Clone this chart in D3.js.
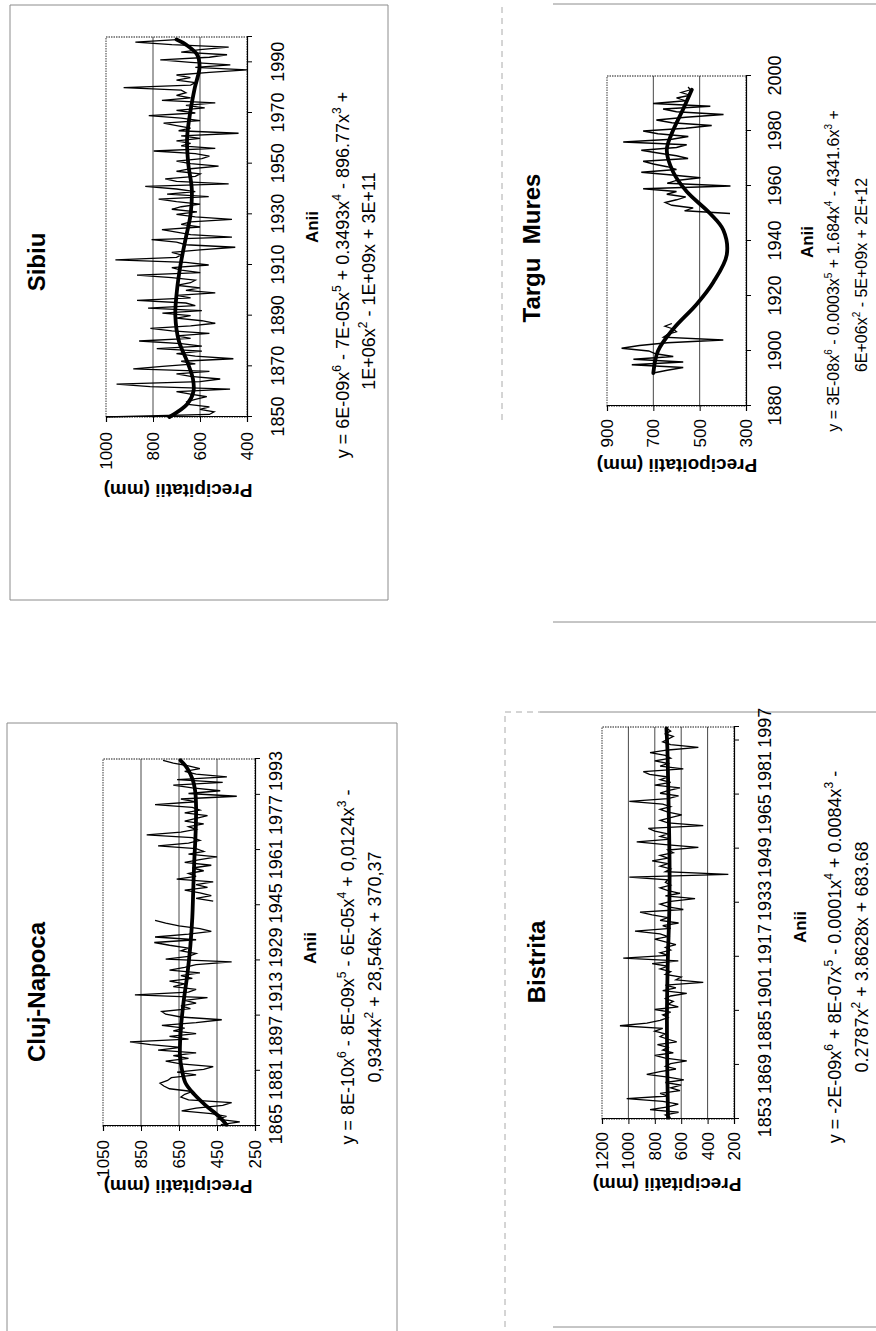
<!DOCTYPE html>
<html>
<head>
<meta charset="utf-8">
<script src="https://cdn.jsdelivr.net/npm/d3@7"></script>
<style>
  body { margin: 0; background: #fff; }
  svg { display: block; }
  text { font-family: "Liberation Sans", Arial, sans-serif; fill: #000; white-space: pre; }
</style>
</head>
<body>
<script>
// ---- data (annual precipitation, mm) ----
var clujStart = 1865;
var clujValues = [
  430, 330, 450, 400, 480, 636, 560, 420, 373, 600,
  640, 620, 580, 700, 730, 750, 710, 690, 560, 660,
  520, 470, 640, 720, 600, 680, 560, 760, 640, 800,
  908, 600, 700, 560, 680, 620, 740, 560, 425, 640,
  720, 741, 590, 640, 560, 620, 500, 882, 600, 560,
  680, 620, 700, 580, 640, 540, 700, 620, 560, 373,
  720, 600, 560, 640, 600, 700, 780, 560, 776, 600,
  480, 540, 650, 720, 776, null, null, null, null, null,
  null, 470, 560, 480, 540, 620, 500, 560, 470, 662,
  560, 600, 520, 580, 480, 620, 540, 450, 600, 520,
  560, 760, 600, 540, 580, 820, 640, 560, 600, 520,
  620, 560, 500, 620, 540, 580, 776, 560, 640, 346,
  600, 433, 580, 680, 420, 660, 398, 560, 620, 540,
  600, 680, 734
];
var clujTrendYears = [1865, 1868, 1872, 1876, 1880, 1885, 1890, 1900, 1910, 1920, 1930, 1940, 1950, 1960, 1970, 1980, 1986, 1990, 1994, 1997];
var clujTrendValues = [400, 440, 510, 570, 615, 635, 645, 640, 625, 605, 590, 580, 575, 570, 563, 560, 565, 578, 605, 642];
var clujValueTicks = [250, 450, 650, 850, 1050];
var clujYearLabels = [1865, 1881, 1897, 1913, 1929, 1945, 1961, 1977, 1993];
var clujYearTicks = [1884.5, 1904.5, 1924.5, 1944.5, 1964.5, 1984.5];

var sibiuStart = 1850;
var sibiuValues = [
  1000, 560, 540, 600, 560, 650, 657, 620, 571, 640,
  700, 472, 812, 955, 600, 514, 640, 700, 560, 884,
  760, 620, 680, 458, 620, 700, 592, 784, 592, 680,
  859, 640, 700, 560, 720, 811, 640, 535, 592, 700,
  640, 760, 592, 821, 620, 660, 868, 640, 700, 535,
  660, 600, 700, 640, 620, 720, 868, 599, 680, 720,
  563, 660, 960, 700, 680, 720, 600, 450, 660, 700,
  806, 464, 640, 700, 762, 600, 680, 640, 464, 620,
  700, 613, 720, 680, 600, 700, 776, 563, 740, 620,
  700, 833, 478, 700, 748, 620, 599, 700, 640, 521,
  640, 700, 592, 560, 620, 797, 535, 680, 640, 700,
  600, 680, 436, 691, 640, 700, 755, 600, 680, 818,
  620, 700, 580, 660, 535, 762, 640, 700, 660, 680,
  925, 640, 620, 700, 641, 700, 560, 400, 620, 471,
  640, 769, 560, 485, 680, 600, 478, 720, 875, 698
];
var sibiuTrendYears = [1850, 1855, 1860, 1865, 1872, 1880, 1890, 1900, 1910, 1920, 1930, 1940, 1950, 1960, 1970, 1980, 1988, 1993, 1997, 1999];
var sibiuTrendValues = [730, 655, 628, 630, 655, 690, 705, 698, 683, 662, 640, 635, 650, 655, 642, 622, 602, 612, 660, 700];
var sibiuValueTicks = [400, 600, 800, 1000];
var sibiuYearLabels = [1850, 1870, 1890, 1910, 1930, 1950, 1970, 1990];
var sibiuYearTicks = [1850, 1870, 1890, 1910, 1930, 1950, 1970, 1990, 2000];

var bistritaStart = 1853;
var bistritaValues = [
  680, 720, 620, 836, 700, 622, 740, 1013, 700, 760,
  609, 680, 600, 720, 580, 700, 861, 760, 640, 720,
  680, 558, 720, 800, 660, 740, 700, 780, 634, 700,
  760, 720, 800, 740, 1064, 860, 760, 700, 740, 680,
  800, 622, 700, 660, 720, 680, 558, 740, 640, 720,
  433, 640, 600, 720, 680, 760, 700, 820, 622, 1039,
  700, 760, 680, 720, 640, 720, 800, 700, 760, 950,
  680, 740, 620, 760, 700, 820, 912, 584, 700, 760,
  680, 495, 720, 609, 700, 760, 680, 720, 700, 993,
  243, 720, 680, 760, 700, 820, 700, 760, 660, 700,
  470, 720, 937, 680, 760, 700, 800, 849, 433, 700,
  760, 680, 596, 700, 760, 680, 740, 993, 700, 620,
  760, 700, 609, 800, 680, 760, 700, 840, 887, 584,
  760, 700, 800, 680, 720, 836, 700, 470, 680, 740,
  700, 660, 720, 680, 710
];
var bistritaTrendYears = [1853, 1870, 1890, 1910, 1930, 1945, 1960, 1975, 1990, 1997];
var bistritaTrendValues = [700, 705, 708, 702, 690, 688, 692, 698, 705, 712];
var bistritaValueTicks = [200, 400, 600, 800, 1000, 1200];
var bistritaYearLabels = [1853, 1869, 1885, 1901, 1917, 1933, 1949, 1965, 1981, 1997];
var bistritaYearTicks = [1872.5, 1892.5, 1912.5, 1932.5, 1952.5, 1972.5, 1992.5];

var targuStart = 1892;
var targuValues = [
  700, 640, 571, 793, 571, 786, 614, 690, 720, 837,
  760, 640, 398, 657, 640, 600, 614, 650, 620,
  null, null, null, null, null, null, null, null, null, null,
  null, null, null, null, null, null, null, null, null, null,
  null, null, null, null, null, null, null, null, null, null,
  null, null, null, null, null, null, null, null, null,
  369, 565, 528, 620, 649, 600, 560, 642, 600, 744,
  367, 640, 600, 497, 620, 752, 600, 640, 700, 744,
  550, 600, 680, 752, 600, 556, 830, 620, 549, 680,
  744, 560, 448, 620, 687, 560, 397, 600, 658, 454,
  701, 560, 600, 540, 580, 540, 550
];
var targuTrendYears = [1892, 1900, 1908, 1917, 1925, 1935, 1944, 1950, 1958, 1965, 1973, 1979, 1988, 1995];
var targuTrendValues = [700, 680, 614, 513, 441, 383, 398, 455, 556, 614, 642, 621, 571, 534];
var targuValueTicks = [300, 500, 700, 900];
var targuYearLabels = [1880, 1900, 1920, 1940, 1960, 1980, 2000];

// ---- page layout: the page is drawn upright in a 1331 x 876 frame, then turned 90deg ----
var pageW = 1331;

var panels = [
  {
    title: "Cluj-Napoca", titleX: 339, titleY: 45, titleSize: 24,
    frame: [[-2, 7, 608, 7], [608, 7, 608, 397], [-2, 397, 608, 397]],
    box: {x0: 205, x1: 572, y0: 103, y1: 255},
    xDomain: [1864.5, 1997.5], yDomain: [250, 1050],
    start: clujStart, values: clujValues, trendYears: clujTrendYears, trendValues: clujTrendValues,
    valueTicks: clujValueTicks, yearLabels: clujYearLabels, yearTicks: clujYearTicks,
    valuePad: 9, yearPad: 14,
    yLabel: "Precipitatii (mm)", yLabelX: 151, yLabelY: 178,
    aniiX: 383, aniiY: 316,
    eq: ["y = 8E-10x^6 - 8E-09x^5 - 6E-05x^4 + 0,0124x^3 -", "0,9344x^2 + 28,546x + 370,37"],
    eqX: [364, 364], eqY: [354, 381], eqSize: 18
  },
  {
    title: "Sibiu", titleX: 1069, titleY: 45, titleSize: 24,
    frame: [[731, 10, 1326, 10], [1326, 10, 1326, 388], [731, 388, 1326, 388], [731, 10, 731, 388]],
    box: {x0: 914, x1: 1294, y0: 106, y1: 247},
    xDomain: [1850, 2000], yDomain: [400, 1000],
    start: sibiuStart, values: sibiuValues, trendYears: sibiuTrendYears, trendValues: sibiuTrendValues,
    valueTicks: sibiuValueTicks, yearLabels: sibiuYearLabels, yearTicks: sibiuYearTicks,
    valuePad: 10, yearPad: 24,
    yLabel: "Precipitatii (mm)", yLabelX: 847, yLabelY: 178,
    aniiX: 1104, aniiY: 318,
    eq: ["y = 6E-09x^6 - 7E-05x^5 + 0.3493x^4 - 896.77x^3 +", "1E+06x^2 - 1E+09x + 3E+11"],
    eqX: [1056, 1050], eqY: [349, 375], eqSize: 18
  },
  {
    title: "Bistrita", titleX: 369, titleY: 545, titleSize: 24,
    frame: [[619, 540, 619, 880], [4, 553, 4, 880]],
    dashed: [[4, 505, 619, 505], [619, 505, 619, 540]],
    box: {x0: 212, x1: 604, y0: 602, y1: 734},
    xDomain: [1852.5, 1997.5], yDomain: [200, 1200],
    start: bistritaStart, values: bistritaValues, trendYears: bistritaTrendYears, trendValues: bistritaTrendValues,
    valueTicks: bistritaValueTicks, yearLabels: bistritaYearLabels, yearTicks: bistritaYearTicks,
    valuePad: 8, yearPad: 24,
    yLabel: "Precipitatii (mm)", yLabelX: 153, yLabelY: 667,
    aniiX: 404, aniiY: 806,
    eq: ["y = -2E-09x^6 + 8E-07x^5 - 0.0001x^4 + 0.0084x^3 -", "0.2787x^2 + 3.8628x + 683.68"],
    eqX: [374, 374], eqY: [841, 868], eqSize: 18
  },
  {
    title: "Targu  Mures", titleX: 1083, titleY: 540, titleSize: 24,
    frame: [[1327, 553, 1327, 880], [709, 553, 709, 880]],
    dashed: [[911, 502, 1326, 502]],
    box: {x0: 925, x1: 1255, y0: 607, y1: 746},
    xDomain: [1880, 2000], yDomain: [300, 900],
    start: targuStart, values: targuValues, trendYears: targuTrendYears, trendValues: targuTrendValues,
    valueTicks: targuValueTicks, yearLabels: targuYearLabels, yearTicks: targuYearLabels,
    valuePad: 8, yearPad: 22,
    yLabel: "Precipoitatii (mm)", yLabelX: 872, yLabelY: 677,
    aniiX: 1089, aniiY: 813,
    eq: ["y = 3E-08x^6 - 0.0003x^5 + 1.684x^4 - 4341.6x^3 +", "6E+06x^2 - 5E+09x + 2E+12"],
    eqX: [1060, 1056], eqY: [839, 867], eqSize: 16
  }
];

var svg = d3.select("body").append("svg")
    .attr("width", 876)
    .attr("height", 1331);

var page = svg.append("g")
    .attr("transform", "translate(0," + pageW + ") rotate(-90)");

panels.forEach(function(p){ drawPanel(page, p); });

function drawPanel(g, p){
    var b = p.box;
    var x = d3.scaleLinear().domain(p.xDomain).range([b.x0, b.x1]);
    var y = d3.scaleLinear().domain(p.yDomain).range([b.y1, b.y0]);

    // outer chart frame (faint, as on the scan)
    g.selectAll(null)
        .data(p.frame)
        .enter()
        .append("line")
        .attr("x1", function(d){ return d[0]; }).attr("y1", function(d){ return d[1]; })
        .attr("x2", function(d){ return d[2]; }).attr("y2", function(d){ return d[3]; })
        .attr("stroke", "#8c8c8c")
        .attr("stroke-width", 1);

    g.selectAll(null)
        .data(p.dashed || [])
        .enter()
        .append("line")
        .attr("x1", function(d){ return d[0]; }).attr("y1", function(d){ return d[1]; })
        .attr("x2", function(d){ return d[2]; }).attr("y2", function(d){ return d[3]; })
        .attr("stroke", "#aaa")
        .attr("stroke-width", 1)
        .attr("stroke-dasharray", "6,5");

    // plot area frame
    g.append("rect")
        .attr("x", b.x0).attr("y", b.y0)
        .attr("width", b.x1 - b.x0).attr("height", b.y1 - b.y0)
        .attr("fill", "none")
        .attr("stroke", "#666")
        .attr("stroke-width", 1.3)
        .attr("stroke-dasharray", "1.5,1");

    // horizontal gridlines
    g.selectAll(null)
        .data(p.valueTicks.slice(1, -1))
        .enter()
        .append("line")
        .attr("x1", b.x0).attr("x2", b.x1)
        .attr("y1", function(d){ return y(d); })
        .attr("y2", function(d){ return y(d); })
        .attr("stroke", "#333")
        .attr("stroke-width", 0.9);

    // value axis
    var yAxis = g.append("g")
        .attr("transform", "translate(" + b.x0 + ",0)")
        .call(d3.axisLeft(y).tickValues(p.valueTicks).tickSize(5).tickPadding(p.valuePad).tickFormat(d3.format("d")));
    styleAxis(yAxis, 17);

    // year axis: tick marks
    var xTicks = g.append("g")
        .attr("transform", "translate(0," + b.y1 + ")")
        .call(d3.axisBottom(x).tickValues(p.yearTicks).tickSize(5).tickFormat(""));
    styleAxis(xTicks, 17);

    // year axis: labels
    var xLabels = g.append("g")
        .attr("transform", "translate(0," + b.y1 + ")")
        .call(d3.axisBottom(x).tickValues(p.yearLabels).tickSize(0).tickPadding(p.yearPad).tickFormat(d3.format("d")));
    xLabels.select(".domain").remove();
    styleAxis(xLabels, 18);

    // annual series
    var years = d3.range(p.start, p.start + p.values.length);
    var line = d3.line()
        .defined(function(d){ return d[1] != null; })
        .x(function(d){ return x(d[0]); })
        .y(function(d){ return y(d[1]); });

    g.append("path")
        .datum(d3.zip(years, p.values))
        .attr("d", line)
        .attr("fill", "none")
        .attr("stroke", "#000")
        .attr("stroke-width", 1.3)
        .attr("stroke-linejoin", "miter");

    // polynomial trend
    var trend = d3.line()
        .curve(d3.curveCatmullRom)
        .x(function(d){ return x(d[0]); })
        .y(function(d){ return y(d[1]); });

    g.append("path")
        .datum(d3.zip(p.trendYears, p.trendValues))
        .attr("d", trend)
        .attr("fill", "none")
        .attr("stroke", "#000")
        .attr("stroke-width", 3.8)
        .attr("stroke-linecap", "round");

    // texts
    g.append("text")
        .attr("x", p.titleX).attr("y", p.titleY)
        .attr("text-anchor", "middle")
        .style("font-size", p.titleSize + "px")
        .style("font-weight", "bold")
        .text(p.title);

    g.append("text")
        .attr("transform", "translate(" + p.yLabelX + "," + p.yLabelY + ") rotate(-90)")
        .attr("text-anchor", "middle")
        .style("font-size", "19px")
        .style("font-weight", "bold")
        .text(p.yLabel);

    g.append("text")
        .attr("x", p.aniiX).attr("y", p.aniiY)
        .attr("text-anchor", "middle")
        .style("font-size", "17px")
        .style("font-weight", "bold")
        .text("Anii");

    p.eq.forEach(function(str, i){
        addEquation(g, str, p.eqX[i], p.eqY[i], p.eqSize);
    });
}

function styleAxis(sel, size){
    sel.select(".domain").attr("stroke", "#000").attr("stroke-width", 1.2);
    sel.selectAll(".tick line").attr("stroke", "#000").attr("stroke-width", 1);
    sel.selectAll(".tick text")
        .style("font-family", '"Liberation Sans", Arial, sans-serif')
        .style("font-size", size + "px")
        .attr("fill", "#000");
}

// equation text with superscript exponents written as ^n
function addEquation(g, str, cx, baseY, size){
    var shift = Math.round(size * 0.42);
    var t = g.append("text")
        .attr("x", cx).attr("y", baseY)
        .attr("text-anchor", "middle")
        .style("font-size", size + "px");
    var parts = str.split(/\^(\d)/);
    parts.forEach(function(s, i){
        if (i % 2 === 0) {
            if (s === "") return;
            t.append("tspan").attr("dy", i > 0 ? shift : 0).text(s);
        } else {
            t.append("tspan").attr("dy", -shift).style("font-size", Math.round(size * 0.65) + "px").text(s);
        }
    });
}
</script>
</body>
</html>
